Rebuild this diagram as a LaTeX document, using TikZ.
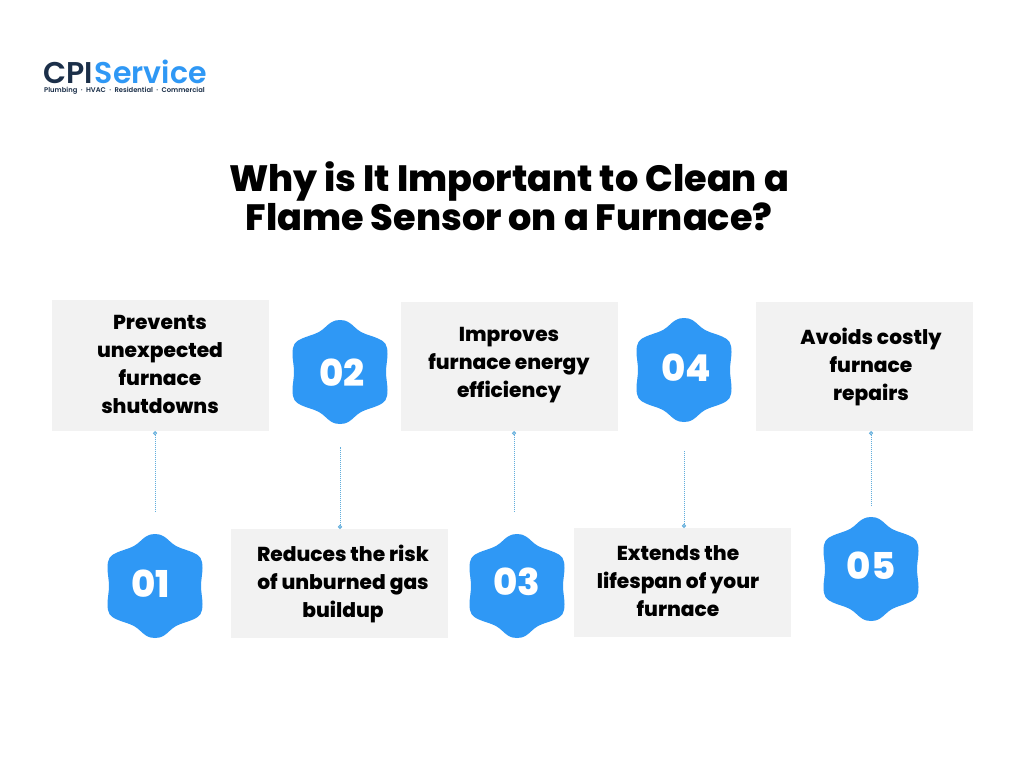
\documentclass[tikz,border=0pt]{standalone}
\usepackage{fontspec}
\setmainfont{Poppins}[BoldFont={* ExtraBold}]
\newfontfamily\logofont{Poppins SemiBold}
\usepackage{xcolor}
\usepackage{tikz}
\usetikzlibrary{arrows.meta}
\definecolor{badgeblue}{HTML}{2F98F5}
\definecolor{boxgray}{HTML}{F2F2F2}
\definecolor{linkblue}{HTML}{62AEDC}
\definecolor{logonavy}{HTML}{1B2F49}
\tikzset{
  infobox/.style={fill=boxgray, minimum width=217pt},
  boxtext/.style={align=center, font=\fontsize{20.2}{28}\bfseries},
  badgetext/.style={text=white, font=\fontsize{37}{37}\bfseries},
  link/.style={linkblue, densely dotted, line width=1pt, {Circle[open,length=4pt,width=4pt]}-},
  pics/badge/.style={code={
    \fill[badgeblue] plot[smooth cycle, tension=0.6] coordinates {
      (0,-52) (9,-49.5) (21,-40) (38,-33.5) (45.5,-28) (47.5,-18)
      (46,0)
      (47.5,18) (45.5,28) (38,33.5) (21,40) (9,49.5)
      (0,52)
      (-9,49.5) (-21,40) (-38,33.5) (-45.5,28) (-47.5,18)
      (-46,0)
      (-47.5,-18) (-45.5,-28) (-38,-33.5) (-21,-40) (-9,-49.5)};
  }}
}
\begin{document}
\begin{tikzpicture}[x=1pt, y=-1pt]
    \useasboundingbox (0,0) rectangle (1024,768);
    \fill[white] (0,0) rectangle (1024,768);

    % Logo
    \node[anchor=base west, inner sep=0pt, text depth=0pt, font=\fontsize{30}{30}\logofont] (logo) at (43,83) {\textcolor{logonavy}{CPI}\hspace{2pt}\textcolor{badgeblue}{Service}};
    \node[anchor=base west, inner sep=0pt, text height=5pt, text=logonavy, font=\fontsize{6.8}{7}\logofont] (tagline) at (44,92.5) {Plumbing\,\,\,\textperiodcentered\,\,\,HVAC\,\,\,\textperiodcentered\,\,\,Residential\,\,\,\textperiodcentered\,\,\,Commercial};

    % Title
    \node[align=center, font=\fontsize{36.6}{39}\bfseries] (title) at (509,196) {Why is It Important to Clean a\\Flame Sensor on a Furnace?};

    % Text boxes
    \node[infobox, minimum height=131pt] (box1) at (160.5,365.5) {};
    \node[infobox, minimum height=109pt] (box2) at (339.5,583.5) {};
    \node[infobox, minimum height=129pt] (box3) at (509.5,366.5) {};
    \node[infobox, minimum height=109pt] (box4) at (682.5,582.5) {};
    \node[infobox, minimum height=129pt] (box5) at (864.5,366.5) {};
    \node[boxtext] (text1) at (160,364.5) {Prevents\\unexpected\\furnace\\shutdowns};
    \node[boxtext] (text2) at (343,583.5) {Reduces the risk\\of unburned gas\\buildup};
    \node[boxtext] (text3) at (509,365.5) {Improves\\furnace energy\\efficiency};
    \node[boxtext] (text4) at (678,581.5) {Extends the\\lifespan of your\\furnace};
    \node[boxtext] (text5) at (871,367) {Avoids costly\\furnace\\repairs};

    % Badges
    \pic at (155,586) {badge};
    \node[badgetext] (num1) at (151,584) {01};
    \pic at (340,372) {badge};
    \node[badgetext] (num2) at (342,373) {02};
    \pic at (517,586) {badge};
    \node[badgetext] (num3) at (517,582) {03};
    \pic at (684,370) {badge};
    \node[badgetext] (num4) at (686,368) {04};
    \pic at (871,569) {badge};
    \node[badgetext] (num5) at (871,566) {05};

    % Dotted links
    \coordinate (end1) at (155,512);
    \coordinate (end2) at (340,447);
    \coordinate (end3) at (514,511);
    \coordinate (end4) at (684,451);
    \coordinate (end5) at (871,505);
    \draw[link] (end1 |- box1.south) -- (end1);
    \draw[link] (end2 |- box2.north) -- (end2);
    \draw[link] (end3 |- box3.south) -- (end3);
    \draw[link] (end4 |- box4.north) -- (end4);
    \draw[link] (end5 |- box5.south) -- (end5);
\end{tikzpicture}
\end{document}
